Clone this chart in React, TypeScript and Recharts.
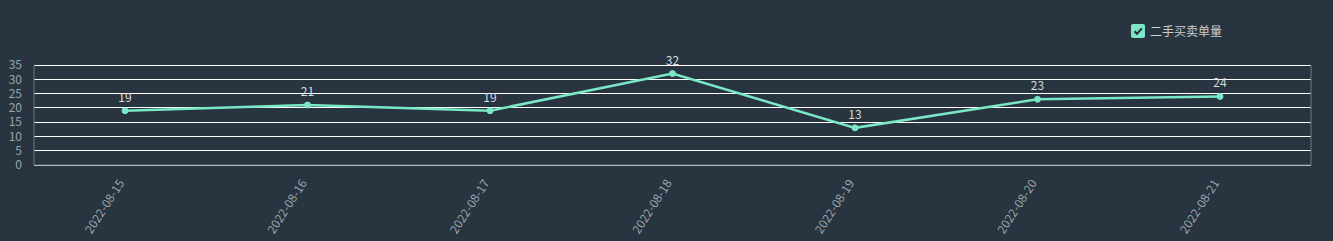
import { LineChart, Line, XAxis, YAxis, CartesianGrid, LabelList } from "recharts";

const dates = ["2022-08-15", "2022-08-16", "2022-08-17", "2022-08-18", "2022-08-19", "2022-08-20", "2022-08-21"];
const counts = [19, 21, 19, 32, 13, 23, 24];
const yTicks = [0, 5, 10, 15, 20, 25, 30, 35];
const seriesName = "二手买卖单量";

const data = dates.map((d, i) => ({ date: d, count: counts[i] }));

const BG = "#283440";
const MINT = "#7ae8c6";
const AXIS = "#6b7680";
const FONT = "'Noto Sans CJK SC', 'Noto Sans', sans-serif";

function LegendBox() {
  return (
    <div
      style={{
        position: "absolute",
        left: 1131,
        top: 24,
        display: "flex",
        alignItems: "center",
        fontFamily: FONT,
        fontSize: 12,
        color: "#c8cdd2",
        lineHeight: "14px",
      }}
    >
      <svg width={14} height={14} style={{ marginRight: 5 }}>
        <rect x={0} y={0} width={14} height={14} rx={2} fill={MINT} />
        <path d="M3.5 7.2 L6 9.8 L10.8 4.4" stroke="#1f2a33" strokeWidth={2} fill="none" />
      </svg>
      <span>{seriesName}</span>
    </div>
  );
}

function DateTick({ x, y, payload }: any) {
  const tx = x;
  const ty = y + 10;
  return (
    <text
      x={tx}
      y={ty}
      transform={`rotate(-57, ${tx}, ${ty})`}
      textAnchor="end"
      fill="#9aa3ab"
      fontSize={12}
      fontFamily={FONT}
    >
      {payload.value}
    </text>
  );
}

export default function App() {
  return (
    <div style={{ position: "absolute", left: 0, top: 0, width: 1333, height: 241, background: BG }}>
      <LineChart width={1333} height={241} data={data} margin={{ top: 65, right: 22, bottom: 0, left: 0 }}>
        <CartesianGrid horizontal vertical={false} stroke="#ffffff" strokeWidth={1} shapeRendering="crispEdges" />
        <CartesianGrid
          horizontal={false}
          vertical
          stroke={AXIS}
          verticalCoordinatesGenerator={({ offset }: any) => [offset.left + offset.width]}
        />
        <XAxis
          dataKey="date"
          interval={0}
          height={76}
          padding={{ left: 91, right: 91 }}
          axisLine={{ stroke: AXIS }}
          tickLine={false}
          tick={<DateTick />}
        />
        <YAxis
          domain={[0, 35]}
          ticks={yTicks}
          interval={0}
          width={34}
          axisLine={{ stroke: AXIS }}
          tickLine={false}
          tick={{ fill: "#9aa3ab", fontSize: 12, fontFamily: FONT }}
          tickMargin={6}
        />
        <Line
          type="linear"
          dataKey="count"
          name={seriesName}
          stroke={MINT}
          strokeWidth={2.5}
          dot={{ r: 3, fill: MINT, stroke: MINT, strokeWidth: 1 }}
          isAnimationActive={false}
        >
          <LabelList dataKey="count" position="top" offset={9} fill="#d6dade" fontSize={12} fontFamily={FONT} />
        </Line>
      </LineChart>
      <LegendBox />
    </div>
  );
}
